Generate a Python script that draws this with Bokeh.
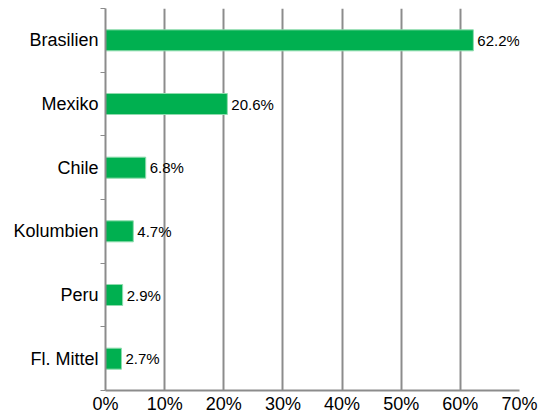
from bokeh.plotting import figure
from bokeh.models import ColumnDataSource, FixedTicker, Range1d
from bokeh.core.properties import value
from bokeh.embed import file_html
from bokeh.resources import INLINE

categories = ["Brasilien", "Mexiko", "Chile", "Kolumbien", "Peru", "Fl. Mittel"]
shares = [62.2, 20.6, 6.8, 4.7, 2.9, 2.7]
x_ticks = [0, 10, 20, 30, 40, 50, 60, 70]
x_tick_labels = ["0%", "10%", "20%", "30%", "40%", "50%", "60%", "70%"]

n = len(categories)
ypos = [n - i for i in range(n)]
labels = [f"{v:.1f}%" for v in shares]

src = ColumnDataSource(dict(y=ypos, v=shares, lab=labels))

p = figure(width=539, height=416, output_backend="svg", toolbar_location=None,
           x_range=Range1d(0, 70), y_range=Range1d(0.5, n + 0.5),
           min_border_left=105, min_border_right=20, min_border_top=8, min_border_bottom=20)
p.outline_line_color = None
p.background_fill_color = "white"

p.hbar(y="y", left=0, right="v", height=0.33, source=src,
       fill_color="#00B050", line_color="#8fdcae", line_width=1)
p.text(x="v", y="y", text="lab", source=src, x_offset=4, text_baseline="middle",
       text_align="left", text_font=value("Liberation Sans"), text_font_size="15px",
       text_color="black")

grid_col = "#8c8c8c"
p.xaxis.ticker = FixedTicker(ticks=x_ticks)
p.xaxis.major_label_overrides = {x: t for x, t in zip(x_ticks, x_tick_labels)}
p.xaxis.major_label_text_font = "Liberation Sans"
p.xaxis.major_label_text_font_style = "normal"
p.xaxis.major_label_text_font_size = "18px"
p.xaxis.major_label_text_color = "black"
p.xaxis.major_label_standoff = 3
p.xaxis.major_tick_out = 0
p.xaxis.major_tick_in = 0
p.xaxis.minor_tick_out = 0
p.xaxis.axis_line_color = grid_col
p.xaxis.axis_line_width = 2

p.yaxis.ticker = FixedTicker(ticks=ypos, minor_ticks=[i + 0.5 for i in range(n + 1)])
p.yaxis.major_label_overrides = {y: c for y, c in zip(ypos, categories)}
p.yaxis.major_label_text_font = "Liberation Sans"
p.yaxis.major_label_text_font_style = "normal"
p.yaxis.major_label_text_font_size = "18px"
p.yaxis.major_label_text_color = "black"
p.yaxis.major_label_standoff = 2
p.yaxis.major_tick_out = 0
p.yaxis.major_tick_in = 0
p.yaxis.minor_tick_out = 5
p.yaxis.minor_tick_in = 0
p.yaxis.minor_tick_line_color = grid_col
p.yaxis.axis_line_color = grid_col
p.yaxis.axis_line_width = 2

p.xgrid.ticker = FixedTicker(ticks=x_ticks)
p.xgrid.grid_line_color = grid_col
p.xgrid.grid_line_width = 2
p.ygrid.grid_line_color = None

open("out.html", "w").write(file_html(p, INLINE))
